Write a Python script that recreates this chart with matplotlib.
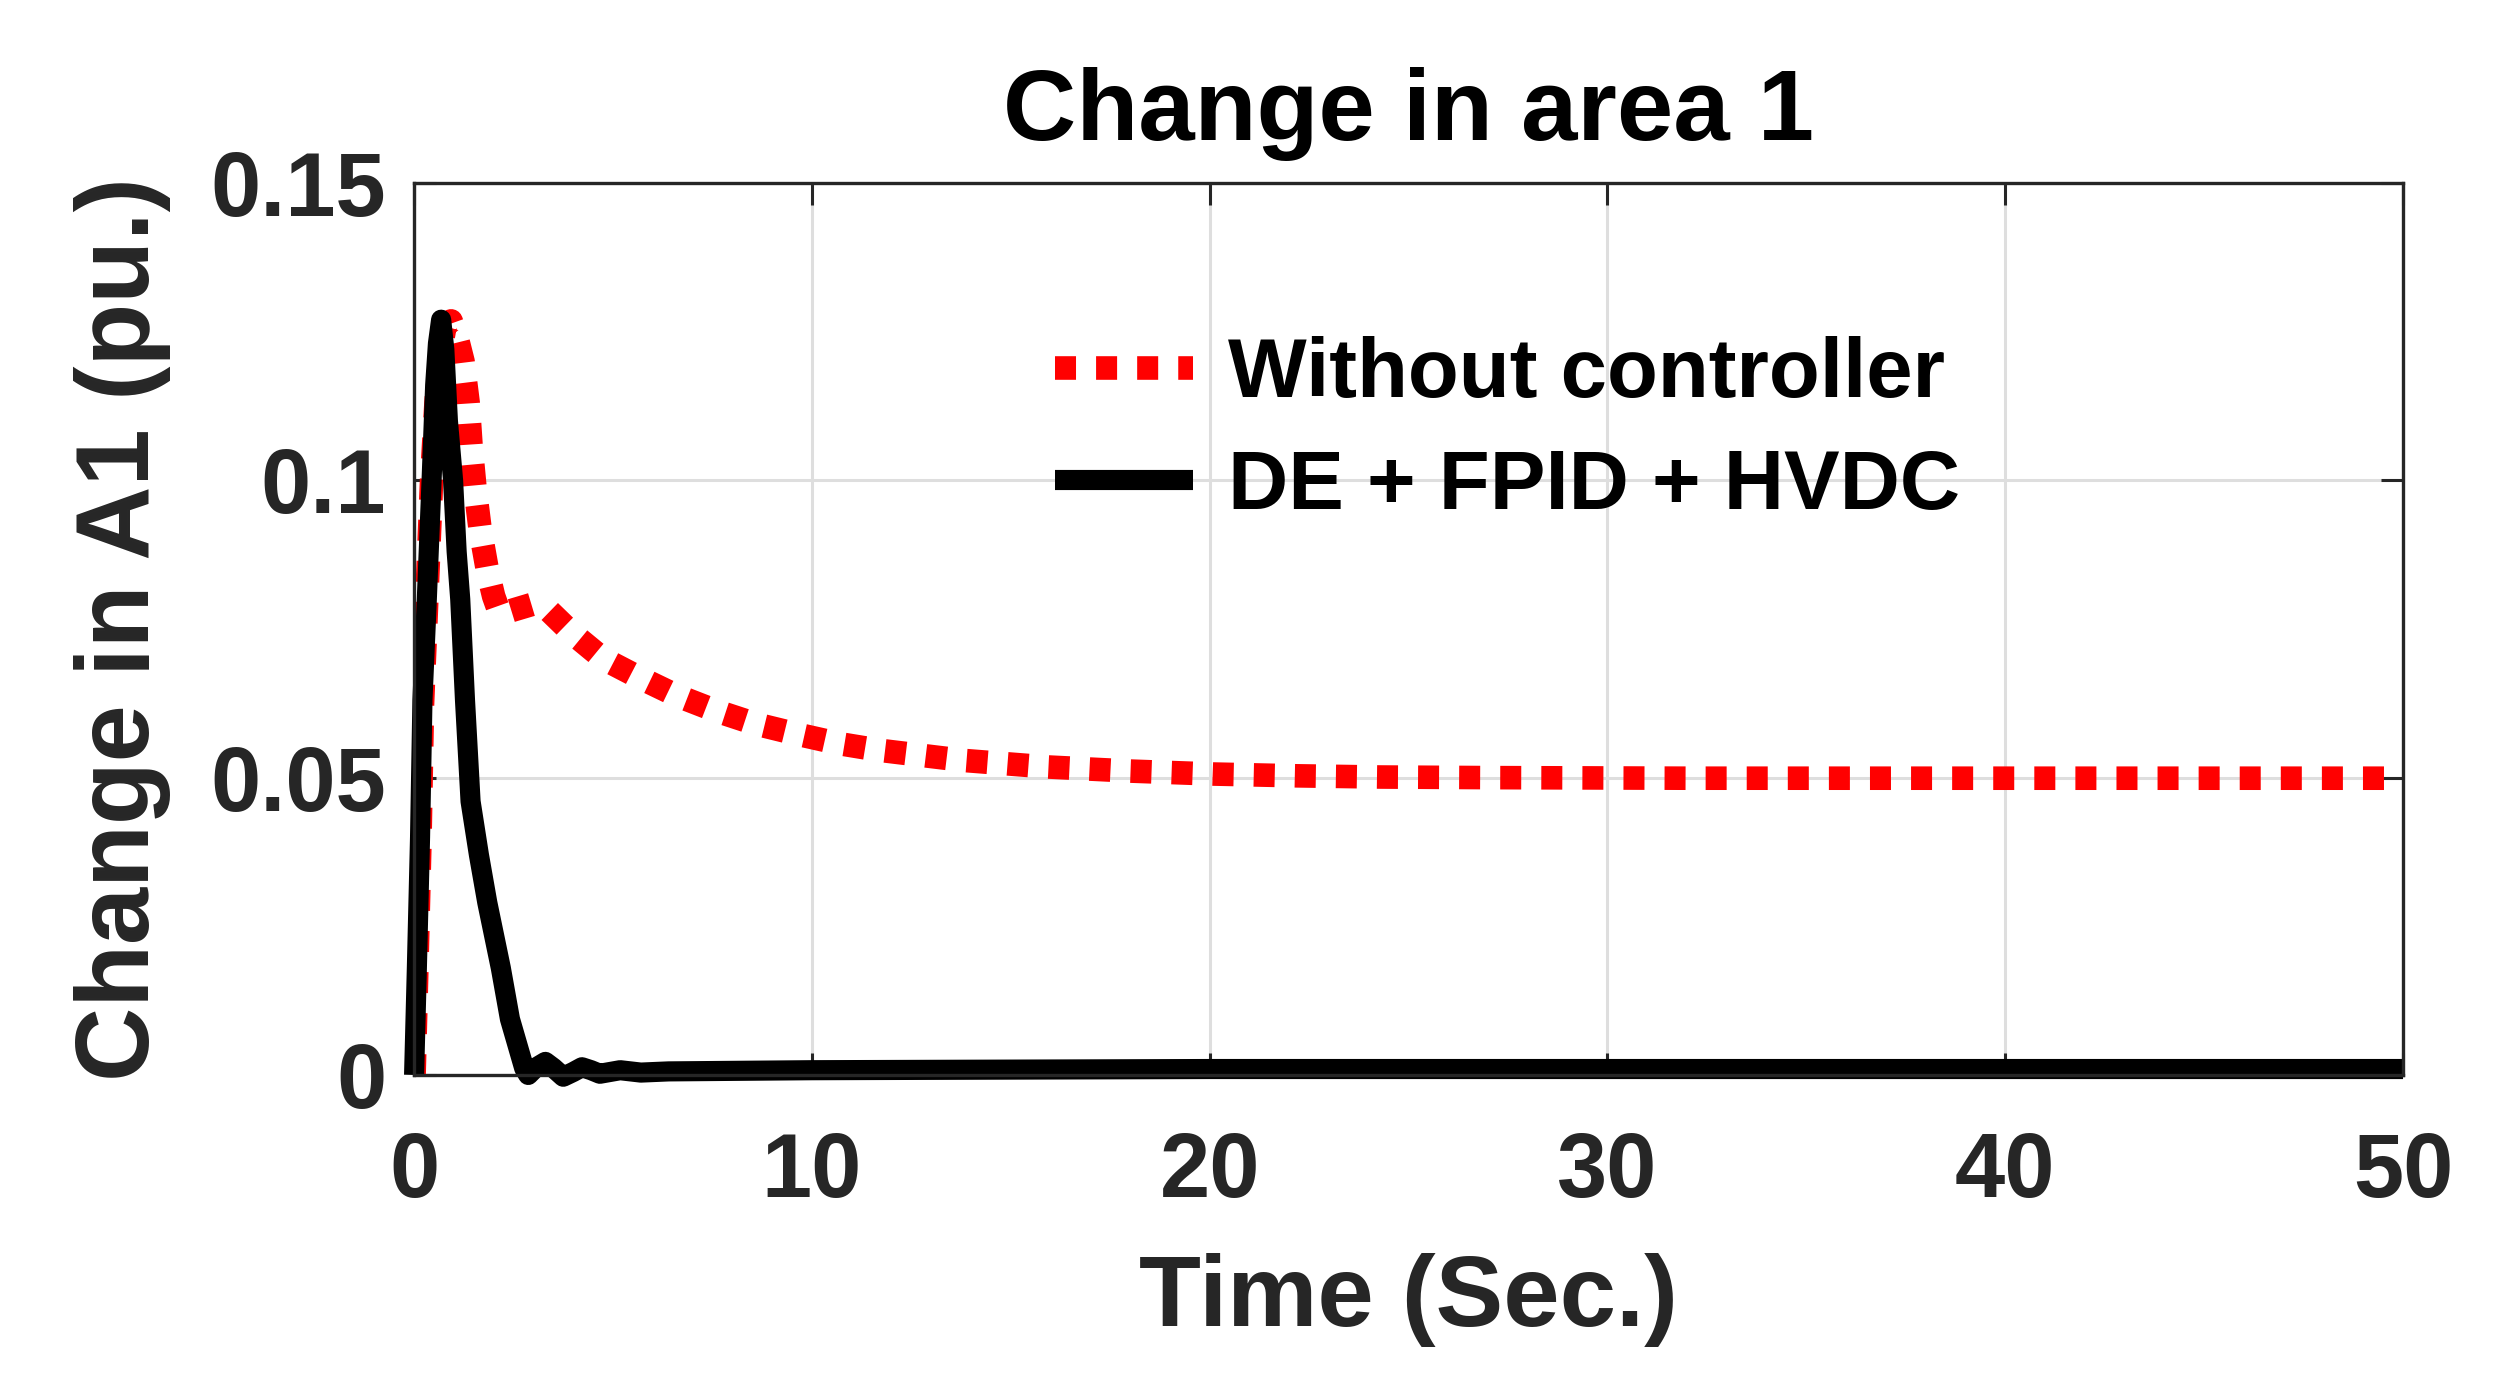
#!/usr/bin/env python3
"""
Change in area 1 - step response with and without controller
"""

import matplotlib
matplotlib.use('Agg')
import matplotlib.pyplot as plt

# ============================================================
# DATA
# ============================================================
t_without = [0.0, 0.07, 0.15, 0.21, 0.32, 0.44, 0.55, 0.65, 0.78, 0.93,
             1.08, 1.23, 1.36, 1.43, 1.53, 1.66, 1.84, 2.0, 2.16, 2.5,
             3.0, 3.4, 3.97, 4.75, 5.7, 6.6, 7.6, 8.6, 9.7, 10.7,
             11.7, 13.8, 15.9, 18.0, 20.1, 22.2, 24.3, 27.0, 32.0, 40.0, 50.0]
y_without = [0.0, 0.018, 0.040, 0.062, 0.080, 0.100, 0.113, 0.121, 0.126, 0.1268,
             0.124, 0.120, 0.113, 0.106, 0.0988, 0.0918, 0.085, 0.0805, 0.0775, 0.0782,
             0.0792, 0.0780, 0.0743, 0.0700, 0.0667, 0.0638, 0.0612, 0.0590, 0.0572, 0.0557,
             0.0546, 0.0529, 0.0518, 0.0511, 0.0506, 0.0503, 0.0501, 0.0500, 0.0499, 0.0499, 0.0499]

t_fpid = [0.0, 0.07, 0.15, 0.21, 0.32, 0.44, 0.53, 0.60, 0.68, 0.76,
          0.85, 0.98, 1.07, 1.16, 1.28, 1.42, 1.63, 1.84, 2.18, 2.41,
          2.77, 2.87, 3.05, 3.3, 3.5, 3.75, 4.0, 4.22, 4.45, 4.67,
          5.18, 5.7, 6.4, 10.0, 20.0, 30.0, 50.0]
y_fpid = [0.0, 0.018, 0.040, 0.063, 0.080, 0.100, 0.116, 0.123, 0.127, 0.122,
          0.110, 0.100, 0.088, 0.080, 0.063, 0.046, 0.037, 0.029, 0.018, 0.0094,
          0.0011, 0.0, 0.0012, 0.0022, 0.0012, -0.0003, 0.0005, 0.0013, 0.0008, 0.0002,
          0.0008, 0.0004, 0.0006, 0.0008, 0.0010, 0.0010, 0.0010]

labels = ['Without controller', 'DE + FPID + HVDC']
x_ticks = [0, 10, 20, 30, 40, 50]
y_ticks = [0, 0.05, 0.1, 0.15]
y_tick_labels = ['0', '0.05', '0.1', '0.15']

# ============================================================
# STYLE
# ============================================================
plt.rcParams['font.family'] = ['Liberation Sans', 'DejaVu Sans']
plt.rcParams['font.weight'] = 'bold'
TEXT_GRAY = '#262626'

# ============================================================
# PLOT
# ============================================================
fig = plt.figure(figsize=(24.99, 13.91), dpi=100)
ax = fig.add_axes([0.1657, 0.2272, 0.7959, 0.6413])

ax.plot(t_without, y_without, color='#ff0000', linewidth=17,
        linestyle=(0, (0.89, 0.85)), dash_capstyle='butt', label=labels[0])
ax.plot(t_fpid, y_fpid, color='black', linewidth=14.5,
        solid_capstyle='butt', solid_joinstyle='round',
        clip_on=False, label=labels[1])

ax.set_xlim(0, 50)
ax.set_ylim(0, 0.15)
ax.set_xticks(x_ticks)
ax.set_yticks(y_ticks)
ax.set_yticklabels(y_tick_labels)

ax.grid(True, color='#dedede', linewidth=2.2)
ax.set_axisbelow(True)
for side in ['top', 'bottom', 'left', 'right']:
    ax.spines[side].set_linewidth(2.4)
    ax.spines[side].set_color(TEXT_GRAY)

ax.tick_params(axis='both', direction='in', length=16, width=2.2,
               colors=TEXT_GRAY, labelsize=65, top=True, right=True)
ax.tick_params(axis='x', pad=40)
ax.tick_params(axis='y', pad=20)
for lbl in ax.get_xticklabels() + ax.get_yticklabels():
    lbl.set_fontweight('bold')

ax.set_title('Change in area 1', fontsize=73, fontweight='bold',
             color='black', pad=31)
ax.set_xlabel('Time (Sec.)', fontsize=73, fontweight='bold', color=TEXT_GRAY)
ax.set_ylabel('Change in A1 (pu.)', fontsize=74, fontweight='bold', color=TEXT_GRAY)
ax.xaxis.set_label_coords(0.5, -0.20)
ax.yaxis.set_label_coords(-0.122, 0.5)

leg = ax.legend(loc='center left', bbox_to_anchor=(0.3223, 0.722),
                frameon=False, fontsize=60, handlelength=1.65,
                handletextpad=0.42, labelspacing=0.41,
                borderpad=0, borderaxespad=0)
for txt in leg.get_texts():
    txt.set_fontweight('bold')

fig.savefig('out.png', dpi=100, facecolor='white')
